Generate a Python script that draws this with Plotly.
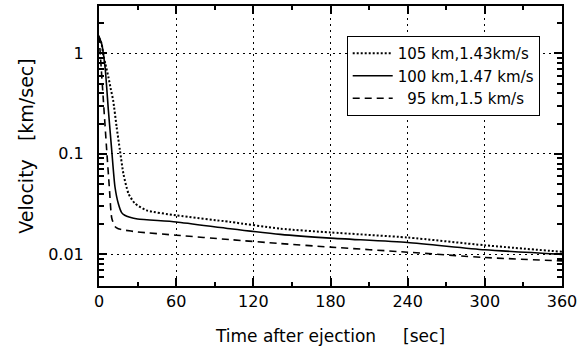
import plotly.graph_objects as go

# ---- data ----
t_105 = [0, 2, 3.4, 5, 7.3, 9, 11, 13.7, 16.3, 19, 23, 28, 37, 60, 102, 141, 180, 240, 300, 360]
v_105 = [1.43, 1.25, 0.95, 0.78, 0.58, 0.45, 0.34, 0.185, 0.108, 0.063, 0.040, 0.032, 0.0274,
         0.0244, 0.021, 0.018, 0.0165, 0.0147, 0.0123, 0.0106]

t_100 = [0, 2, 4.7, 7.3, 9.9, 12.4, 15, 17.6, 20, 24, 30, 60, 102, 141, 180, 240, 300, 360]
v_100 = [1.47, 1.25, 0.73, 0.27, 0.108, 0.047, 0.032, 0.026, 0.0245, 0.0234, 0.0225, 0.021,
         0.018, 0.0158, 0.0145, 0.0131, 0.0111, 0.0100]

t_95 = [0, 0.8, 3.4, 6, 8, 9.9, 12.4, 15, 19, 30, 60, 102, 141, 180, 240, 300, 360]
v_95 = [1.5, 1.07, 0.34, 0.108, 0.047, 0.023, 0.0189, 0.018, 0.0175, 0.0167, 0.0155, 0.014,
        0.0128, 0.0118, 0.0105, 0.0093, 0.0086]

names = ["105 km,1.43km/s", "100 km,1.47 km/s", "\u200795 km,1.5 km/s"]

x_ticks = [0, 60, 120, 180, 240, 300, 360]
x_minor = [30, 90, 150, 210, 270, 330]
y_ticks = [0.01, 0.1, 1]
y_ticktext = ["0.01", "0.1", "1"]
y_minor = [0.006, 0.007, 0.008, 0.009,
           0.02, 0.03, 0.04, 0.05, 0.06, 0.07, 0.08, 0.09,
           0.2, 0.3, 0.4, 0.5, 0.6, 0.7, 0.8, 0.9, 2]

FONT = "DejaVu Sans"

fig = go.Figure()
fig.add_trace(go.Scatter(x=t_105, y=v_105, mode="lines", name=names[0],
                         line=dict(color="black", width=2, dash="2px,2px", shape="spline", smoothing=0.6)))
fig.add_trace(go.Scatter(x=t_100, y=v_100, mode="lines", name=names[1],
                         line=dict(color="black", width=1.6, shape="spline", smoothing=0.6)))
fig.add_trace(go.Scatter(x=t_95, y=v_95, mode="lines", name=names[2],
                         line=dict(color="black", width=1.6, dash="7px,5px", shape="spline", smoothing=0.6)))

fig.update_layout(
    width=581, height=353,
    margin=dict(l=99, r=19, t=6, b=67),
    paper_bgcolor="white", plot_bgcolor="white",
    font=dict(family=FONT, color="black"),
    showlegend=True,
    legend=dict(x=0.535, y=0.893, xanchor="left", yanchor="top",
                bgcolor="white", bordercolor="black", borderwidth=1,
                font=dict(size=15, family=FONT), itemwidth=40,
                tracegroupgap=0),
    xaxis=dict(range=[0, 360], tickmode="array", tickvals=x_ticks, automargin=False,
               ticks="inside", ticklen=8, tickwidth=1.5, tickcolor="black",
               showline=True, linecolor="black", linewidth=2, mirror="ticks",
               showgrid=True, gridcolor="black", gridwidth=1, griddash="2px,4px",
               zeroline=False,
               minor=dict(tickmode="array", tickvals=x_minor, ticks="inside", ticklen=4,
                          tickcolor="black", showgrid=False),
               tickfont=dict(size=16, family=FONT),
               title=dict(text="Time after ejection\u00a0\u00a0\u00a0\u00a0\u00a0[sec]",
                          font=dict(size=17, family=FONT), standoff=20)),
    yaxis=dict(type="log", range=[-2.315, 0.47], tickmode="array", tickvals=y_ticks,
               ticktext=y_ticktext, automargin=False,
               ticks="inside", ticklen=8, tickwidth=1.5, tickcolor="black",
               showline=True, linecolor="black", linewidth=2, mirror="ticks",
               showgrid=True, gridcolor="black", gridwidth=1, griddash="2px,4px",
               zeroline=False, ticklabelstandoff=10,
               minor=dict(tickmode="array", tickvals=y_minor, ticks="inside", ticklen=5,
                          tickcolor="black", showgrid=False),
               tickfont=dict(size=16, family=FONT),
               title=dict(text="Velocity\u00a0\u00a0\u00a0[km/sec]",
                          font=dict(size=19, family=FONT), standoff=10)),
)

fig.write_html("out.html", config={"displayModeBar": False},
               post_script="document.body.style.margin='0px';document.body.style.overflow='hidden';")
